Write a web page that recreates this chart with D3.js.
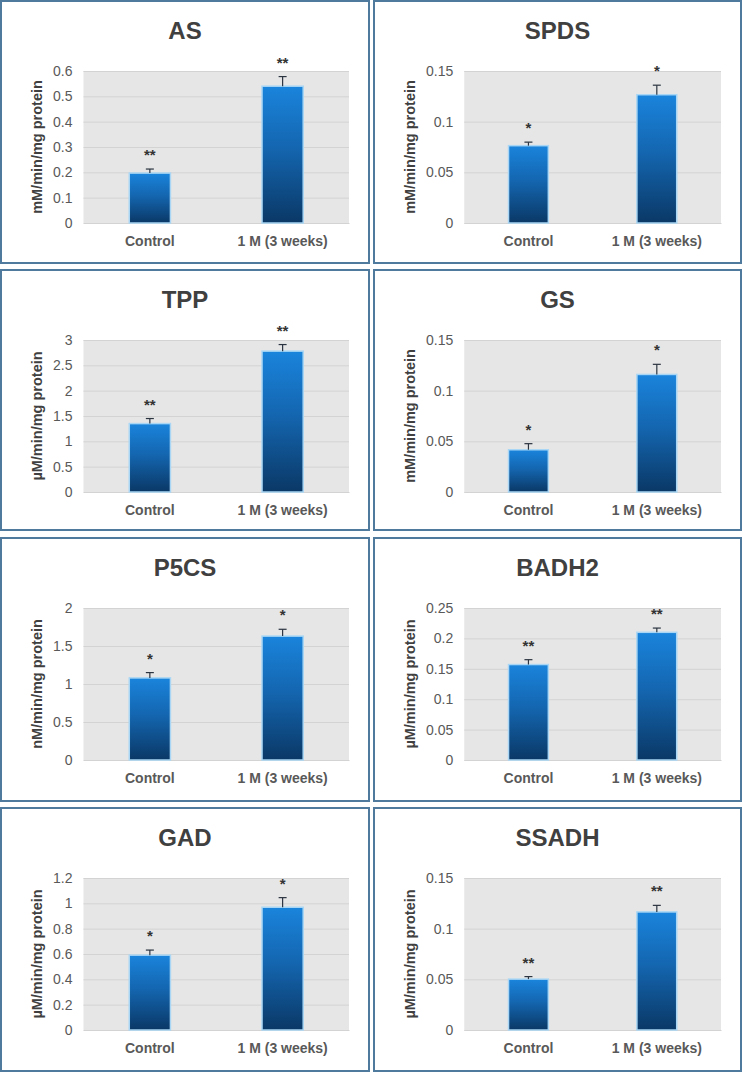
<!DOCTYPE html>
<html>
<head>
<meta charset="utf-8">
<script src="https://cdn.jsdelivr.net/npm/d3@7"></script>
<style>
  html, body { margin: 0; padding: 0; background: #ffffff; }
  svg { display: block; }
  text { font-family: "Liberation Sans", Arial, sans-serif; }
</style>
</head>
<body>
<svg id="chart" width="744" height="1073"></svg>
<script>
// ---------- data ----------
const titles = ["AS", "SPDS", "TPP", "GS", "P5CS", "BADH2", "GAD", "SSADH"];
const yLabels = [
  "mM/min/mg protein", "mM/min/mg protein",
  "\u00B5M/min/mg protein", "mM/min/mg protein",
  "nM/min/mg protein", "\u00B5M/min/mg protein",
  "\u00B5M/min/mg protein", "\u00B5M/min/mg protein"
];
const categories = ["Control", "1 M (3 weeks)"];
const controlValues = [0.197, 0.0763, 1.35, 0.0417, 1.08, 0.157, 0.591, 0.0502];
const treatedValues = [0.540, 0.1266, 2.78, 0.1160, 1.63, 0.210, 0.969, 0.1165];
const controlErrors = [0.016, 0.0035, 0.10, 0.0060, 0.07, 0.008, 0.040, 0.0025];
const treatedErrors = [0.038, 0.0094, 0.13, 0.0100, 0.09, 0.007, 0.076, 0.0065];
const yMaxes = [0.6, 0.15, 3, 0.15, 2, 0.25, 1.2, 0.15];
const yTickSteps = [0.1, 0.05, 0.5, 0.05, 0.5, 0.05, 0.2, 0.05];
const controlStars = ["**", "*", "**", "*", "*", "**", "*", "**"];
const treatedStars = ["**", "*", "**", "*", "*", "**", "*", "**"];

// ---------- layout ----------
const colX = [1, 374];
const colW = [368, 367];
const rowY = [1, 270, 538, 808];
const rowH = [262, 260, 263, 263];

const svg = d3.select("#chart");
const defs = svg.append("defs");
const grad = defs.append("linearGradient")
  .attr("id", "barGrad").attr("x1", 0).attr("y1", 0).attr("x2", 0).attr("y2", 1);
grad.append("stop").attr("offset", "0%").attr("stop-color", "#1a84dc");
grad.append("stop").attr("offset", "45%").attr("stop-color", "#1466b0");
grad.append("stop").attr("offset", "100%").attr("stop-color", "#0a3866");

const fmt = v => String(+v.toFixed(3));

titles.forEach((title, i) => {
  const col = i % 2, row = Math.floor(i / 2);
  const px = colX[col], py = rowY[row], pw = colW[col], ph = rowH[row];
  const g = svg.append("g");

  // panel border
  g.append("rect")
    .attr("x", px).attr("y", py).attr("width", pw).attr("height", ph)
    .attr("fill", "#ffffff").attr("stroke", "#4f7a9e").attr("stroke-width", 2);

  const ticks = d3.range(0, yMaxes[i] + yTickSteps[i] / 2, yTickSteps[i]);

  // measure tick label width
  const tmp = g.append("g").style("font-size", "14px");
  let maxW = 0;
  ticks.forEach(t => {
    const tt = tmp.append("text").text(fmt(t));
    maxW = Math.max(maxW, tt.node().getComputedTextLength());
  });
  tmp.remove();

  const plotLeft = px + 63 + maxW;
  const plotRight = px + pw - 20;
  const plotTop = py + 70;
  const plotBottom = py + 222;

  const x = d3.scaleBand().domain(categories)
    .range([plotLeft, plotRight]).paddingInner(0.69).paddingOuter(0.345);
  const y = d3.scaleLinear().domain([0, yMaxes[i]]).range([plotBottom, plotTop]);

  // plot background
  g.append("rect")
    .attr("x", plotLeft).attr("y", plotTop)
    .attr("width", plotRight - plotLeft).attr("height", plotBottom - plotTop)
    .attr("fill", "#e6e6e6");

  // y axis with gridlines
  const yAxis = d3.axisLeft(y).tickValues(ticks).tickFormat(fmt)
    .tickSize(-(plotRight - plotLeft)).tickPadding(11);
  const ya = g.append("g").attr("transform", `translate(${plotLeft},0)`).call(yAxis);
  ya.select(".domain").remove();
  ya.selectAll(".tick line").attr("stroke", "#d3d3d3").attr("stroke-width", 1);
  ya.selectAll(".tick text")
    .attr("fill", "#595959").style("font-size", "14px")
    .style("font-family", "'Liberation Sans', Arial, sans-serif");

  // x axis labels
  const xAxis = d3.axisBottom(x).tickSize(0).tickPadding(13);
  const xa = g.append("g").attr("transform", `translate(0,${plotBottom})`).call(xAxis);
  xa.select(".domain").attr("stroke", "#d3d3d3");
  xa.selectAll(".tick text")
    .attr("fill", "#595959").style("font-size", "14px").style("font-weight", "bold")
    .style("font-family", "'Liberation Sans', Arial, sans-serif");

  const vals = [controlValues[i], treatedValues[i]];
  const errs = [controlErrors[i], treatedErrors[i]];
  const stars = [controlStars[i], treatedStars[i]];
  const data = categories.map((c, k) => ({ c, v: vals[k], e: errs[k], s: stars[k] }));

  // bars
  g.selectAll(".bar").data(data).enter().append("rect")
    .attr("x", d => x(d.c)).attr("width", x.bandwidth())
    .attr("y", d => y(d.v)).attr("height", d => plotBottom - y(d.v))
    .attr("fill", "url(#barGrad)")
    .attr("stroke", "#a8d6f4").attr("stroke-width", 1.5);

  // error bars
  const eb = g.selectAll(".err").data(data).enter().append("g");
  eb.append("line")
    .attr("x1", d => x(d.c) + x.bandwidth() / 2).attr("x2", d => x(d.c) + x.bandwidth() / 2)
    .attr("y1", d => y(d.v)).attr("y2", d => y(d.v + d.e))
    .attr("stroke", "#2b3440").attr("stroke-width", 1.2);
  eb.append("line")
    .attr("x1", d => x(d.c) + x.bandwidth() / 2 - 4).attr("x2", d => x(d.c) + x.bandwidth() / 2 + 4)
    .attr("y1", d => y(d.v + d.e)).attr("y2", d => y(d.v + d.e))
    .attr("stroke", "#2b3440").attr("stroke-width", 1.2);

  // significance stars
  g.selectAll(".star").data(data).enter().append("text")
    .attr("x", d => x(d.c) + x.bandwidth() / 2)
    .attr("y", d => y(d.v + d.e) - 9)
    .attr("text-anchor", "middle")
    .attr("fill", "#333333").style("font-size", "15px").style("font-weight", "bold")
    .text(d => d.s);

  // title
  g.append("text")
    .attr("x", px + pw / 2).attr("y", py + 38)
    .attr("text-anchor", "middle")
    .attr("fill", "#404040").style("font-size", "24px").style("font-weight", "bold")
    .text(title);

  // y label
  g.append("text")
    .attr("transform", `translate(${px + 36},${(plotTop + plotBottom) / 2}) rotate(-90)`)
    .attr("text-anchor", "middle").attr("dominant-baseline", "central")
    .attr("fill", "#404040").style("font-size", "14.5px").style("font-weight", "bold")
    .text(yLabels[i]);
});
</script>
</body>
</html>
